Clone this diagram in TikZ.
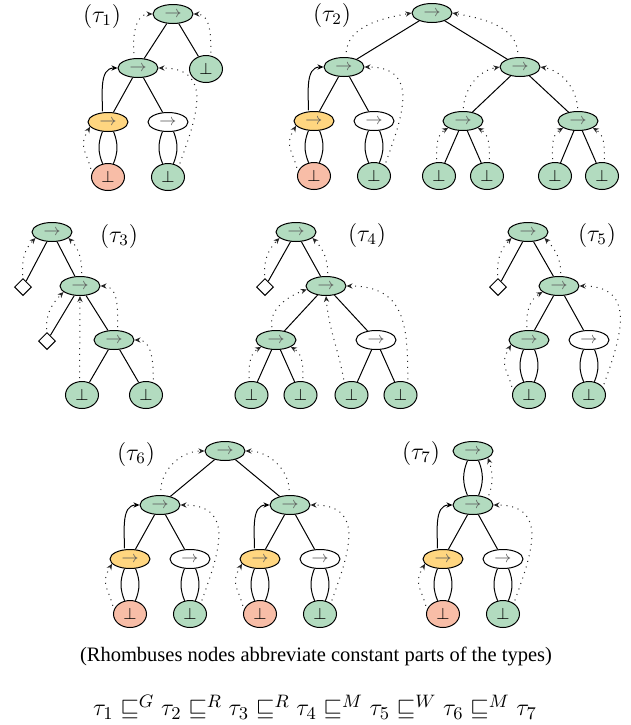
\documentclass[tikz,border=0pt]{standalone}
\usepackage[no-math]{fontspec}
\setmainfont{Liberation Serif}
\usepackage{amsmath}
\usepackage{amssymb}
\usetikzlibrary{arrows.meta,shapes}

\definecolor{okgreen}{RGB}{178,219,191}
\definecolor{blamey}{RGB}{255,214,128}
\definecolor{faultred}{RGB}{248,189,167}

\newcommand{\tfun}{\textcolor{black!65}{$\rightarrow$}}
\newcommand{\tbot}{$\perp$}

\begin{document}
\begin{tikzpicture}
\tikzstyle{fun}=[ellipse, draw=black, line width=0.5pt, minimum width=20pt, minimum height=9.5pt, inner sep=0pt, font=\footnotesize, node distance=27pt]
\tikzstyle{ok}=[fun, fill=okgreen]
\tikzstyle{blm}=[fun, fill=blamey]
\tikzstyle{wht}=[fun, fill=white]
\tikzstyle{bot}=[ellipse, draw=black, line width=0.5pt, minimum width=16.5pt, minimum height=13.5pt, inner sep=0pt, font=\footnotesize, fill=okgreen, node distance=27.5pt]
\tikzstyle{fail}=[bot, fill=faultred]
\tikzstyle{cst}=[diamond, draw=black, line width=0.5pt, minimum size=8.5pt, inner sep=0pt, node distance=27.5pt]
\tikzstyle{connect}=[line width=0.5pt]
\tikzstyle{lens}=[line width=0.5pt]
\tikzstyle{flow}=[draw=black!85, dash pattern=on 0.5pt off 2.4pt, line width=0.5pt, shorten <=1.5pt, -{Stealth[length=3pt,width=2.6pt]}]
\tikzstyle{blame}=[line width=0.5pt, shorten <=0.5pt, -{Stealth[length=3pt,width=2.6pt]}]

  \useasboundingbox (0,0) rectangle (315.5pt,-362.5pt);

  % tau_1
  \node (t1) at (51pt,-8pt) {\large$(\tau_1)$};
  \node[ok] (r1) at (86.5pt,-7pt) {\tfun};
  \node[ok] (m1) [below of=r1, xshift=-17.5pt] {\tfun};
  \node[bot] (b1) [below of=r1, xshift=16.5pt] {\tbot};
  \node[blm] (y1) [below of=m1, xshift=-15pt] {\tfun};
  \node[wht] (w1) [below of=m1, xshift=15pt] {\tfun};
  \node[fail] (e1) [below of=y1] {\tbot};
  \node[bot] (g1) [below of=w1] {\tbot};

  \path (r1) edge [connect] (m1)
        (r1) edge [connect] (b1)
        (m1) edge [connect] (y1)
        (m1) edge [connect] (w1)
        (y1.240) edge [lens, bend right=22] (e1.112)
        (y1.300) edge [lens, bend left=22] (e1.68)
        (w1.240) edge [lens, bend right=22] (g1.112)
        (w1.300) edge [lens, bend left=22] (g1.68)
        (m1.110) edge [flow, shorten <=2.5pt, out=95, in=180] (r1.west)
        (b1.70) edge [flow, out=90, in=0] (r1.east)
        (g1.45) edge [flow, out=70, in=0, looseness=1.4] (m1.east)
        (e1.165) edge [flow, shorten <=2pt, out=105, in=240, looseness=1.3] (y1.195)
        (y1.120) edge [blame, out=90, in=180] (m1.west);

  % tau_2
  \node (t2) at (166pt,-7.5pt) {\large$(\tau_2)$};
  \node[ok] (r2) at (216pt,-6.5pt) {\tfun};
  \node[ok] (m2a) [below of=r2, xshift=-44pt] {\tfun};
  \node[ok] (m2b) [below of=r2, xshift=44pt] {\tfun};
  \node[blm] (y2) [below of=m2a, xshift=-15pt] {\tfun};
  \node[wht] (w2) [below of=m2a, xshift=15pt] {\tfun};
  \node[fail] (e2) [below of=y2] {\tbot};
  \node[bot] (g2) [below of=w2] {\tbot};
  \node[ok] (n2a) [below of=m2b, xshift=-28.5pt] {\tfun};
  \node[ok] (n2b) [below of=m2b, xshift=29pt] {\tfun};
  \node[bot] (l2a) [below of=n2a, xshift=-12pt] {\tbot};
  \node[bot] (l2b) [below of=n2a, xshift=12pt] {\tbot};
  \node[bot] (l2c) [below of=n2b, xshift=-11.5pt] {\tbot};
  \node[bot] (l2d) [below of=n2b, xshift=12pt] {\tbot};

  \path (r2) edge [connect] (m2a)
        (r2) edge [connect] (m2b)
        (m2a) edge [connect] (y2)
        (m2a) edge [connect] (w2)
        (m2b) edge [connect] (n2a)
        (m2b) edge [connect] (n2b)
        (n2a) edge [connect] (l2a)
        (n2a) edge [connect] (l2b)
        (n2b) edge [connect] (l2c)
        (n2b) edge [connect] (l2d)
        (y2.240) edge [lens, bend right=22] (e2.112)
        (y2.300) edge [lens, bend left=22] (e2.68)
        (w2.240) edge [lens, bend right=22] (g2.112)
        (w2.300) edge [lens, bend left=22] (g2.68)
        (m2a.80) edge [flow, shorten <=2.5pt, out=85, in=190] (r2.west)
        (m2b.100) edge [flow, shorten <=2.5pt, out=95, in=-10] (r2.east)
        (y2.120) edge [blame, out=90, in=180] (m2a.west)
        (e2.165) edge [flow, shorten <=2pt, out=105, in=240, looseness=1.3] (y2.195)
        (g2.45) edge [flow, out=70, in=0, looseness=1.4] (m2a.east)
        (n2a.north) edge [flow, out=85, in=190] (m2b.west)
        (n2b.north) edge [flow, out=95, in=-10] (m2b.east)
        (l2a.100) edge [flow, out=90, in=210] (n2a.205)
        (l2b.80) edge [flow, out=90, in=-30] (n2a.335)
        (l2c.100) edge [flow, out=90, in=210] (n2b.205)
        (l2d.80) edge [flow, out=90, in=-30] (n2b.335);

  % tau_3
  \node (t3) at (59.5pt,-118pt) {\large$(\tau_3)$};
  \node[ok] (r3) at (26pt,-116pt) {\tfun};
  \node[cst] (d3a) [below of=r3, xshift=-14.5pt] {};
  \node[ok] (m3) [below of=r3, xshift=14pt] {\tfun};
  \node[cst] (d3b) [below of=m3, xshift=-16.5pt] {};
  \node[ok] (l3) [below of=m3, xshift=17pt] {\tfun};
  \node[bot] (f3a) [below of=l3, xshift=-16pt] {\tbot};
  \node[bot] (f3b) [below of=l3, xshift=16pt] {\tbot};

  \path (r3) edge [connect] (d3a)
        (r3) edge [connect] (m3)
        (m3) edge [connect] (d3b)
        (m3) edge [connect] (l3)
        (l3) edge [connect] (f3a)
        (l3) edge [connect] (f3b)
        (d3a.north) edge [flow, out=95, in=225] (r3.200)
        (m3.80) edge [flow, out=90, in=-45] (r3.340)
        (d3b.north) edge [flow, out=95, in=225] (m3.200)
        (f3a.100) edge [flow] (m3.south)
        (l3.70) edge [flow, out=90, in=0] (m3.east)
        (f3b.60) edge [flow, out=90, in=0] (l3.east);

  % tau_4
  \node (t4) at (183.5pt,-117.5pt) {\large$(\tau_4)$};
  \node[ok] (r4) at (148pt,-116pt) {\tfun};
  \node[cst] (d4) [below of=r4, xshift=-15.5pt] {};
  \node[ok] (m4) [below of=r4, xshift=15pt] {\tfun};
  \node[ok] (n4) [below of=m4, xshift=-25pt] {\tfun};
  \node[wht] (w4) [below of=m4, xshift=25pt] {\tfun};
  \node[bot] (f4a) [below of=n4, xshift=-12.25pt] {\tbot};
  \node[bot] (f4b) [below of=n4, xshift=12.25pt] {\tbot};
  \node[bot] (f4c) [below of=w4, xshift=-12.25pt] {\tbot};
  \node[bot] (f4d) [below of=w4, xshift=12.25pt] {\tbot};

  \path (r4) edge [connect] (d4)
        (r4) edge [connect] (m4)
        (m4) edge [connect] (n4)
        (m4) edge [connect] (w4)
        (n4) edge [connect] (f4a)
        (n4) edge [connect] (f4b)
        (w4) edge [connect] (f4c)
        (w4) edge [connect] (f4d)
        (d4.north) edge [flow, out=95, in=225] (r4.200)
        (m4.80) edge [flow, out=90, in=-45] (r4.340)
        (n4.110) edge [flow, out=100, in=200] (m4.190)
        (f4a.100) edge [flow, out=90, in=210] (n4.205)
        (f4b.80) edge [flow, out=90, in=-30] (n4.335)
        (f4c.120) edge [flow, out=100, in=-85] (m4.south)
        (f4d.60) edge [flow, out=90, in=0, looseness=1.3] (m4.east);

  % tau_5
  \node (t5) at (298.5pt,-117.5pt) {\large$(\tau_5)$};
  \node[ok] (r5) at (264pt,-116pt) {\tfun};
  \node[cst] (d5) [below of=r5, xshift=-15pt] {};
  \node[ok] (m5) [below of=r5, xshift=15.5pt] {\tfun};
  \node[ok] (n5) [below of=m5, xshift=-15pt] {\tfun};
  \node[wht] (w5) [below of=m5, xshift=15pt] {\tfun};
  \node[bot] (f5a) [below of=n5] {\tbot};
  \node[bot] (f5b) [below of=w5] {\tbot};

  \path (r5) edge [connect] (d5)
        (r5) edge [connect] (m5)
        (m5) edge [connect] (n5)
        (m5) edge [connect] (w5)
        (n5.240) edge [lens, bend right=22] (f5a.112)
        (n5.300) edge [lens, bend left=22] (f5a.68)
        (w5.240) edge [lens, bend right=22] (f5b.112)
        (w5.300) edge [lens, bend left=22] (f5b.68)
        (d5.north) edge [flow, out=95, in=225] (r5.200)
        (m5.80) edge [flow, out=90, in=-45] (r5.340)
        (n5.100) edge [flow, out=95, in=210] (m5.200)
        (f5a.165) edge [flow, shorten <=2pt, out=105, in=240, looseness=1.3] (n5.195)
        (f5b.30) edge [flow, out=70, in=0, looseness=1.4] (m5.east);

  % tau_6
  \node (t6) at (68pt,-227pt) {\large$(\tau_6)$};
  \node[ok] (r6) at (112.5pt,-225.5pt) {\tfun};
  \node[ok] (m6a) [below of=r6, xshift=-32.5pt] {\tfun};
  \node[ok] (m6b) [below of=r6, xshift=32.5pt] {\tfun};
  \node[blm] (y6a) [below of=m6a, xshift=-15pt] {\tfun};
  \node[wht] (w6a) [below of=m6a, xshift=15pt] {\tfun};
  \node[blm] (y6b) [below of=m6b, xshift=-15pt] {\tfun};
  \node[wht] (w6b) [below of=m6b, xshift=15pt] {\tfun};
  \node[fail] (e6a) [below of=y6a] {\tbot};
  \node[bot] (g6a) [below of=w6a] {\tbot};
  \node[fail] (e6b) [below of=y6b] {\tbot};
  \node[bot] (g6b) [below of=w6b] {\tbot};

  \path (r6) edge [connect] (m6a)
        (r6) edge [connect] (m6b)
        (m6a) edge [connect] (y6a)
        (m6a) edge [connect] (w6a)
        (m6b) edge [connect] (y6b)
        (m6b) edge [connect] (w6b)
        (y6a.240) edge [lens, bend right=22] (e6a.112)
        (y6a.300) edge [lens, bend left=22] (e6a.68)
        (w6a.240) edge [lens, bend right=22] (g6a.112)
        (w6a.300) edge [lens, bend left=22] (g6a.68)
        (y6b.240) edge [lens, bend right=22] (e6b.112)
        (y6b.300) edge [lens, bend left=22] (e6b.68)
        (w6b.240) edge [lens, bend right=22] (g6b.112)
        (w6b.300) edge [lens, bend left=22] (g6b.68)
        (m6a.85) edge [flow, shorten <=2.5pt, out=90, in=180] (r6.west)
        (m6b.95) edge [flow, shorten <=2.5pt, out=90, in=0] (r6.east)
        (y6a.120) edge [blame, out=90, in=180] (m6a.west)
        (y6b.120) edge [blame, out=90, in=180] (m6b.west)
        (e6a.165) edge [flow, shorten <=2pt, out=105, in=240, looseness=1.3] (y6a.195)
        (e6b.165) edge [flow, shorten <=2pt, out=105, in=240, looseness=1.3] (y6b.195)
        (g6a.45) edge [flow, out=70, in=0, looseness=1.4] (m6a.east)
        (g6b.45) edge [flow, out=70, in=0, looseness=1.4] (m6b.east);

  % tau_7
  \node (t7) at (210.5pt,-226.5pt) {\large$(\tau_7)$};
  \node[ok] (r7) at (236.5pt,-225.5pt) {\tfun};
  \node[ok] (m7) [below of=r7] {\tfun};
  \node[blm] (y7) [below of=m7, xshift=-15pt] {\tfun};
  \node[wht] (w7) [below of=m7, xshift=15pt] {\tfun};
  \node[fail] (e7) [below of=y7] {\tbot};
  \node[bot] (g7) [below of=w7] {\tbot};

  \path (m7) edge [connect] (y7)
        (m7) edge [connect] (w7)
        (r7.240) edge [lens, bend right=22] (m7.120)
        (r7.300) edge [lens, bend left=22] (m7.60)
        (y7.240) edge [lens, bend right=22] (e7.112)
        (y7.300) edge [lens, bend left=22] (e7.68)
        (w7.240) edge [lens, bend right=22] (g7.112)
        (w7.300) edge [lens, bend left=22] (g7.68)
        (m7.25) edge [flow, out=70, in=-70] (r7.335)
        (y7.120) edge [blame, out=90, in=180] (m7.west)
        (e7.165) edge [flow, shorten <=2pt, out=105, in=240, looseness=1.3] (y7.195)
        (g7.45) edge [flow, out=70, in=0, looseness=1.4] (m7.east);

  % caption lines
  \node (cap) at (158pt,-328pt) {\fontsize{10.25pt}{12pt}\selectfont (Rhombuses nodes abbreviate constant parts of the types)};
  \node (ord) at (157.5pt,-353.5pt) {\fontsize{12.3pt}{14pt}\selectfont $\tau_1 \sqsubseteq^G \tau_2 \sqsubseteq^R \tau_3 \sqsubseteq^R \tau_4 \sqsubseteq^M \tau_5 \sqsubseteq^W \tau_6 \sqsubseteq^M \tau_7$};

\end{tikzpicture}
\end{document}
